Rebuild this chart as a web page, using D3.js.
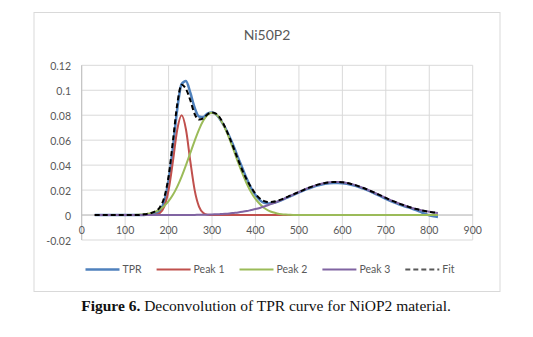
<!DOCTYPE html>
<html>
<head>
<meta charset="utf-8">
<script src="https://cdn.jsdelivr.net/npm/d3@7"></script>
<style>
    body { margin: 0; background: #fff; }
    #chart-area { width: 533px; height: 337px; }
    .tick-label, .legend-label, .chart-title { font-family: Lato, "Open Sans", sans-serif; fill: #595959; }
    .caption { font-family: "Liberation Serif", "Times New Roman", serif; fill: #111; }
</style>
</head>
<body>
<div id="chart-area"></div>
<script>
// temperature (x) values of the TPR run
let temps = [30, 40, 50, 60, 70, 80, 90, 100, 110, 120, 130, 140, 150, 160, 170, 180, 190, 200, 210, 220,
    230, 240, 250, 260, 270, 280, 290, 300, 310, 320, 330, 340, 350, 360, 370, 380, 390, 400, 410, 420,
    430, 440, 450, 460, 470, 480, 490, 500, 510, 520, 530, 540, 550, 560, 570, 580, 590, 600, 610, 620,
    630, 640, 650, 660, 670, 680, 690, 700, 710, 720, 730, 740, 750, 760, 770, 780, 790, 800, 810, 820];

let tpr = [0, 0, 0, 0, 0, 0, 0, 0, 0, 0, 0, 0, 0.0002, 0.0005, 0.0012, 0.0035, 0.0110, 0.0280, 0.0540, 0.0850,
    0.1050, 0.1075, 0.0980, 0.0860, 0.0790, 0.0785, 0.0815, 0.0822, 0.0805, 0.0760, 0.0700, 0.0630, 0.0550, 0.0460, 0.0375, 0.0290, 0.0215, 0.0160, 0.0120, 0.0098,
    0.0093, 0.0097, 0.0106, 0.0120, 0.0135, 0.0150, 0.0166, 0.0181, 0.0196, 0.0210, 0.0223, 0.0234, 0.0243, 0.0250, 0.0255, 0.0257, 0.0257, 0.0255, 0.0250, 0.0243,
    0.0234, 0.0223, 0.0210, 0.0196, 0.0180, 0.0164, 0.0147, 0.0129, 0.0113, 0.0099, 0.0086, 0.0074, 0.0063, 0.0052, 0.0039, 0.0025, 0.0011, -0.0002, -0.0010, -0.0015];

let peak1 = [0, 0, 0, 0, 0, 0, 0, 0, 0, 0, 0, 0, 0, 0, 0.0003, 0.0017, 0.0068, 0.0200, 0.0431, 0.0686,
    0.0800, 0.0686, 0.0431, 0.0200, 0.0068, 0.0017, 0.0003, 0, 0, 0, 0, 0, 0, 0, 0, 0, 0, 0, 0, 0,
    0, 0, 0, 0, 0, 0, 0, 0, 0, 0, 0, 0, 0, 0, 0, 0, 0, 0, 0, 0,
    0, 0, 0, 0, 0, 0, 0, 0, 0, 0, 0, 0, 0, 0, 0, 0, 0, 0, 0, 0];

let peak2 = [0, 0, 0, 0, 0, 0, 0, 0, 0, 0.0001, 0.0003, 0.0005, 0.0009, 0.0016, 0.0028, 0.0046, 0.0073, 0.0111, 0.0162, 0.0228,
    0.0308, 0.0400, 0.0498, 0.0595, 0.0685, 0.0757, 0.0804, 0.0820, 0.0805, 0.0762, 0.0694, 0.0610, 0.0517, 0.0421, 0.0331, 0.0251, 0.0183, 0.0129, 0.0088, 0.0057,
    0.0036, 0.0022, 0.0013, 0.0007, 0.0004, 0.0002, 0.0001, 0, 0, 0, 0, 0, 0, 0, 0, 0, 0, 0, 0, 0,
    0, 0, 0, 0, 0, 0, 0, 0, 0, 0, 0, 0, 0, 0, 0, 0, 0, 0, 0, 0];

let peak3 = [0, 0, 0, 0, 0, 0, 0, 0, 0, 0, 0, 0, 0, 0, 0, 0, 0, 0, 0, 0,
    0, 0, 0.0001, 0.0001, 0.0002, 0.0002, 0.0003, 0.0005, 0.0006, 0.0008, 0.0010, 0.0013, 0.0017, 0.0021, 0.0026, 0.0032, 0.0040, 0.0048, 0.0057, 0.0068,
    0.0080, 0.0093, 0.0107, 0.0121, 0.0137, 0.0153, 0.0169, 0.0185, 0.0200, 0.0215, 0.0228, 0.0240, 0.0249, 0.0257, 0.0262, 0.0265, 0.0265, 0.0262, 0.0257, 0.0249,
    0.0240, 0.0228, 0.0215, 0.0200, 0.0185, 0.0169, 0.0153, 0.0137, 0.0121, 0.0107, 0.0093, 0.0080, 0.0068, 0.0057, 0.0048, 0.0040, 0.0032, 0.0026, 0.0021, 0.0017];

let fit = [0, 0, 0, 0, 0, 0, 0, 0, 0, 0, 0, 0.0005, 0.0009, 0.0016, 0.0031, 0.0063, 0.0141, 0.0311, 0.0593, 0.0890,
    0.1045, 0.1010, 0.0920, 0.0810, 0.0765, 0.0775, 0.0808, 0.0822, 0.0811, 0.0770, 0.0704, 0.0623, 0.0534, 0.0442, 0.0357, 0.0283, 0.0223, 0.0170, 0.0133, 0.0112,
    0.0105, 0.0106, 0.0114, 0.0126, 0.0141, 0.0155, 0.0170, 0.0185, 0.0200, 0.0215, 0.0228, 0.0240, 0.0249, 0.0257, 0.0262, 0.0265, 0.0265, 0.0262, 0.0257, 0.0249,
    0.0240, 0.0228, 0.0215, 0.0200, 0.0185, 0.0169, 0.0153, 0.0137, 0.0121, 0.0107, 0.0093, 0.0080, 0.0068, 0.0057, 0.0048, 0.0040, 0.0032, 0.0026, 0.0021, 0.0017];

let seriesNames = ["TPR", "Peak 1", "Peak 2", "Peak 3", "Fit"];
let xTicks = [0, 100, 200, 300, 400, 500, 600, 700, 800, 900];
let yTicks = [-0.02, 0, 0.02, 0.04, 0.06, 0.08, 0.1, 0.12];

class DeconvViz {
    constructor(parentElement) {
        this.parentElement = parentElement;
        this.series = [tpr, peak1, peak2, peak3, fit];
        this.colors = ["#4F81BD", "#C0504D", "#9BBB59", "#8064A2", "#000000"];
        this.widths = [2.5, 2, 2, 2, 2];
    }

    initViz() {
        let vis = this;

        vis.svg = d3.select("#" + vis.parentElement).append("svg")
            .attr("width", 533)
            .attr("height", 337);

        // chart frame
        vis.svg.append("rect")
            .attr("x", 34).attr("y", 12.5)
            .attr("width", 466).attr("height", 279)
            .attr("fill", "#fff")
            .attr("stroke", "#d9d9d9");

        vis.x = d3.scaleLinear().domain([0, 900]).range([81.7, 472.7]);
        vis.y = d3.scaleLinear().domain([-0.02, 0.12]).range([240, 65.3]);

        vis.svg.append("text")
            .attr("class", "chart-title")
            .attr("x", 267).attr("y", 40)
            .attr("text-anchor", "middle")
            .style("font-size", "14px")
            .text("Ni50P2");

        // gridlines
        vis.svg.append("g").selectAll("line.h")
            .data(yTicks).enter().append("line")
            .attr("x1", vis.x(0)).attr("x2", vis.x(900))
            .attr("y1", d => vis.y(d)).attr("y2", d => vis.y(d))
            .attr("stroke", "#d9d9d9");

        vis.svg.append("g").selectAll("line.v")
            .data(xTicks).enter().append("line")
            .attr("x1", d => vis.x(d)).attr("x2", d => vis.x(d))
            .attr("y1", vis.y(0.12)).attr("y2", vis.y(-0.02))
            .attr("stroke", "#d9d9d9");

        // axis lines
        vis.svg.append("line")
            .attr("x1", vis.x(0)).attr("x2", vis.x(900))
            .attr("y1", vis.y(0)).attr("y2", vis.y(0))
            .attr("stroke", "#bfbfbf");
        vis.svg.append("line")
            .attr("x1", vis.x(0)).attr("x2", vis.x(0))
            .attr("y1", vis.y(0.12)).attr("y2", vis.y(-0.02))
            .attr("stroke", "#bfbfbf");

        // tick labels
        vis.svg.append("g").selectAll("text")
            .data(yTicks).enter().append("text")
            .attr("class", "tick-label")
            .attr("x", 71)
            .attr("y", d => vis.y(d) + 4.5)
            .attr("text-anchor", "end")
            .style("font-size", "10.5px")
            .text(d => String(d));

        vis.svg.append("g").selectAll("text")
            .data(xTicks).enter().append("text")
            .attr("class", "tick-label")
            .attr("x", d => vis.x(d))
            .attr("y", vis.y(0) + 19)
            .attr("text-anchor", "middle")
            .style("font-size", "10.5px")
            .text(d => d);

        vis.drawLines();
        vis.drawLegend();

        let cap = vis.svg.append("text")
            .attr("class", "caption")
            .attr("x", 266).attr("y", 311)
            .attr("text-anchor", "middle")
            .style("font-size", "15.5px");
        cap.append("tspan").style("font-weight", "bold").text("Figure 6.");
        cap.append("tspan").text(" Deconvolution of TPR curve for NiOP2 material.");
    }

    drawLines() {
        let vis = this;

        let line = d3.line()
            .x((d, i) => vis.x(temps[i]))
            .y(d => vis.y(d))
            .curve(d3.curveMonotoneX);

        vis.series.forEach(function (s, i) {
            vis.svg.append("path")
                .datum(s)
                .attr("fill", "none")
                .attr("stroke", vis.colors[i])
                .attr("stroke-width", vis.widths[i])
                .attr("stroke-linejoin", "round")
                .attr("stroke-dasharray", i === 4 ? "5,3" : null)
                .attr("d", line);
        });
    }

    drawLegend() {
        let vis = this;
        let ly = 269.5;
        let g = vis.svg.append("g");

        // lay items out from their text widths, then centre the row
        let pos = 0;
        let items = seriesNames.map(function (name, i) {
            let t = g.append("text")
                .attr("class", "legend-label")
                .style("font-size", "10.5px")
                .attr("y", ly + 3.8)
                .text(name);
            let w = t.node().getComputedTextLength();
            let item = {text: t, start: pos, w: w, i: i};
            pos += 34 + 3 + w + 15;
            return item;
        });
        let total = pos - 15;
        let x0 = 270 - total / 2;

        items.forEach(function (it) {
            g.append("line")
                .attr("x1", x0 + it.start).attr("x2", x0 + it.start + 34)
                .attr("y1", ly).attr("y2", ly)
                .attr("stroke", it.i === 4 ? "#595959" : vis.colors[it.i])
                .attr("stroke-width", vis.widths[it.i])
                .attr("stroke-dasharray", it.i === 4 ? "5,3" : null);
            it.text.attr("x", x0 + it.start + 37);
        });
    }
}

let viz = new DeconvViz("chart-area");
viz.initViz();
</script>
</body>
</html>
